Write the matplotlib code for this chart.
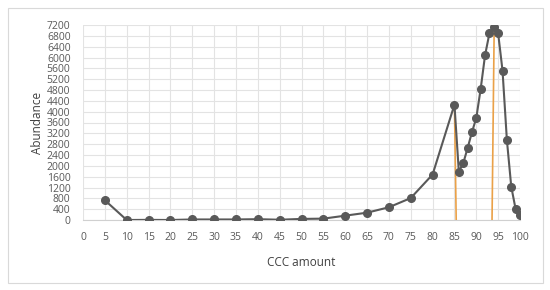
import matplotlib.pyplot as plt
import numpy as np
from matplotlib.patches import Rectangle

# CCC amount vs abundance
ccc = [5, 10, 15, 20, 25, 30, 35, 40, 45, 50, 55, 60, 65, 70, 75, 80, 85,
       86, 87, 88, 89, 90, 91, 92, 93, 94, 95, 96, 97, 98, 99, 100]
abundance = [730, 0, 5, 0, 20, 20, 20, 30, 10, 40, 50, 160, 270, 470, 810, 1680, 4260,
             1790, 2090, 2650, 3240, 3770, 4840, 6080, 6890, 7110, 6890, 5520, 2950, 1230, 400, 190]

# orange marker lines (top point, bottom point)
drop_x = [(85, 85.4), (94.1, 93.6)]
drop_y = [(4260, 0), (7200, 0)]

plt.rcParams['font.family'] = ['Open Sans', 'DejaVu Sans']

fig = plt.figure(figsize=(5.5, 2.9), dpi=100)
fig.patches.append(Rectangle((8/550, 7/290), 535/550, 275/290, transform=fig.transFigure,
                             fill=False, edgecolor='#d9d9d9', linewidth=0.8))
ax = fig.add_axes([83/550, 1 - 220/290, 437/550, 195/290])

for xs, ys in zip(drop_x, drop_y):
    ax.plot(xs, ys, color='#eaa148', linewidth=1.2, zorder=3)

ax.plot(ccc, abundance, color='#595959', linewidth=1.5, marker='o', markersize=5.5,
        markerfacecolor='#595959', markeredgecolor='#595959', zorder=4)

ax.set_xlim(0, 100)
ax.set_ylim(0, 7200)
ax.set_xticks(np.arange(0, 101, 5))
ax.set_yticks(np.arange(0, 7201, 400))
ax.grid(True, color='#e3e3e3', linewidth=0.8)
ax.set_axisbelow(True)
for s in ['top', 'right', 'left']:
    ax.spines[s].set_visible(False)
ax.spines['bottom'].set_color('#d0d0d0')
ax.tick_params(length=0, labelsize=7.5, colors='#595959', pad=9)
ax.tick_params(axis='y', pad=9)

ax.set_xlabel('CCC amount', fontsize=8.5, color='#404040', labelpad=9)
ax.set_ylabel('Abundance', fontsize=8.5, color='#404040', labelpad=2)

fig.savefig('out.png', dpi=100)
